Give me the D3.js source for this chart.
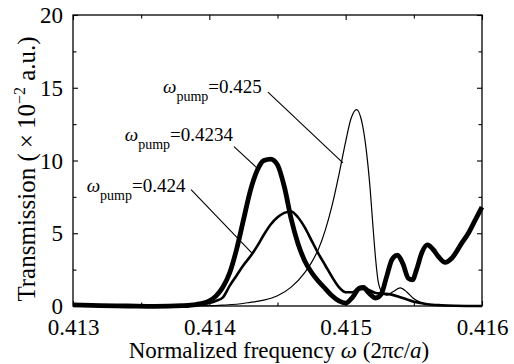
<!DOCTYPE html>
<html>
<head>
<meta charset="utf-8">
<script src="https://cdn.jsdelivr.net/npm/d3@7"></script>
<style>
  html, body { margin: 0; padding: 0; background: #fff; }
  svg { display: block; }
</style>
</head>
<body>
<div id="chart"></div>
<script>
// frequency (2πc/a) and transmission (x10^-2 a.u.)
const freq4234 = [0.4130, 0.4132, 0.4134, 0.4136, 0.4138, 0.4139, 0.4140, 0.41405, 0.4141, 0.41415, 0.4142, 0.41425, 0.4143, 0.41435, 0.4144, 0.41445, 0.4145, 0.41455, 0.4146, 0.41465, 0.4147, 0.41475, 0.4148, 0.41485, 0.4149, 0.41495, 0.4150, 0.41505, 0.4151, 0.41513, 0.41517, 0.41522, 0.41526, 0.4153, 0.41534, 0.41538, 0.41542, 0.41546, 0.41549, 0.41552, 0.41556, 0.4156, 0.41564, 0.41568, 0.41573, 0.41578, 0.41585, 0.4159, 0.41595, 0.4160];
const trans4234 = [0.08, 0.03, 0.0, -0.03, 0.02, 0.1, 0.35, 0.7, 1.3, 2.3, 3.9, 5.9, 7.9, 9.3, 10.0, 10.1, 9.7, 8.2, 6.0, 4.3, 3.1, 2.3, 1.7, 1.2, 0.7, 0.35, 0.2, 0.6, 1.2, 1.25, 0.9, 0.55, 0.8, 2.0, 3.2, 3.5, 2.9, 1.9, 1.8, 2.5, 3.7, 4.2, 3.9, 3.4, 3.0, 3.3, 4.3, 5.0, 5.9, 6.8];

const freq424 = [0.4130, 0.4132, 0.4134, 0.4136, 0.4138, 0.4139, 0.4140, 0.41405, 0.4141, 0.41415, 0.4142, 0.41425, 0.4143, 0.41435, 0.4144, 0.41445, 0.4145, 0.41455, 0.4146, 0.41465, 0.4147, 0.41475, 0.4148, 0.41485, 0.4149, 0.41495, 0.4150, 0.41505, 0.4151, 0.41513, 0.41517, 0.41522, 0.41527, 0.41533, 0.4154, 0.41545, 0.4155, 0.41555, 0.4156, 0.4157, 0.4158, 0.4160];
const trans424 = [0.05, 0.02, 0.0, 0.0, 0.03, 0.08, 0.2, 0.35, 0.6, 1.4, 2.1, 2.8, 3.4, 4.1, 4.9, 5.6, 6.1, 6.4, 6.5, 6.1, 5.4, 4.5, 3.6, 2.8, 2.0, 1.3, 0.95, 0.95, 1.3, 1.35, 1.1, 0.9, 0.85, 0.8, 0.6, 0.45, 0.3, 0.2, 0.12, 0.05, 0.02, 0.0];

const freq425 = [0.4130, 0.4138, 0.4140, 0.4141, 0.4142, 0.4143, 0.4144, 0.4145, 0.4146, 0.4147, 0.41475, 0.4148, 0.41485, 0.4149, 0.41495, 0.4150, 0.41504, 0.41508, 0.41512, 0.41515, 0.41518, 0.4152, 0.41522, 0.41524, 0.41527, 0.4153, 0.41535, 0.4154, 0.41545, 0.4155, 0.41555, 0.4156, 0.4157, 0.4158, 0.4160];
const trans425 = [0.0, 0.0, 0.02, 0.06, 0.12, 0.25, 0.4, 0.7, 1.3, 2.3, 3.0, 3.9, 5.2, 6.9, 9.0, 11.3, 12.9, 13.5, 12.6, 10.8, 8.0, 5.5, 3.2, 1.6, 0.9, 0.75, 1.0, 1.25, 0.95, 0.5, 0.25, 0.12, 0.04, 0.01, 0.0];

const pumpLabels = ['0.425', '0.4234', '0.424'];
const xTickValues = [0.413, 0.414, 0.415, 0.416];
const yTickValues = [0, 5, 10, 15, 20];

const width = 514, height = 364;
const margin = { top: 15, right: 32, bottom: 58, left: 73 };

const svg = d3.select('#chart').append('svg')
  .attr('width', width).attr('height', height);

const x = d3.scaleLinear().domain([0.413, 0.416]).range([margin.left, width - margin.right]);
const y = d3.scaleLinear().domain([0, 20]).range([height - margin.bottom, margin.top]);

const xMinor = d3.range(0.4135, 0.416, 0.001);
const yMinor = d3.range(2.5, 20, 5);

// bottom axis with labels
const bottom = svg.append('g').attr('transform', `translate(0,${y(0)})`)
  .call(d3.axisBottom(x).tickValues(xTickValues).tickSize(-5).tickFormat(d3.format('.3f')));
bottom.selectAll('text').attr('y', 29).attr('dy', 0).style('font-size', '23px');
svg.append('g').attr('transform', `translate(0,${y(0)})`)
  .call(d3.axisBottom(x).tickValues(xMinor).tickSize(-3.5).tickFormat(''));

// top
svg.append('g').attr('transform', `translate(0,${y(20)})`)
  .call(d3.axisTop(x).tickValues(xTickValues).tickSize(-5).tickFormat(''));
svg.append('g').attr('transform', `translate(0,${y(20)})`)
  .call(d3.axisTop(x).tickValues(xMinor).tickSize(-3.5).tickFormat(''));

// left axis with labels
const left = svg.append('g').attr('transform', `translate(${x(0.413)},0)`)
  .call(d3.axisLeft(y).tickValues(yTickValues).tickSize(-5).tickPadding(10));
left.selectAll('text').attr('dy', '0.33em').style('font-size', '23px');
svg.append('g').attr('transform', `translate(${x(0.413)},0)`)
  .call(d3.axisLeft(y).tickValues(yMinor).tickSize(-3.5).tickFormat(''));

// right
svg.append('g').attr('transform', `translate(${x(0.416)},0)`)
  .call(d3.axisRight(y).tickValues(yTickValues).tickSize(-5).tickFormat(''));
svg.append('g').attr('transform', `translate(${x(0.416)},0)`)
  .call(d3.axisRight(y).tickValues(yMinor).tickSize(-3.5).tickFormat(''));

svg.selectAll('.domain').remove();
svg.selectAll('.tick line').attr('stroke', '#000').attr('stroke-width', 1.1);

svg.append('rect')
  .attr('x', x(0.413)).attr('y', y(20))
  .attr('width', x(0.416) - x(0.413)).attr('height', y(0) - y(20))
  .attr('fill', 'none').attr('stroke', '#000').attr('stroke-width', 1.3);

// curves
const line = d3.line()
  .x(d => x(d[0]))
  .y(d => y(d[1]))
  .curve(d3.curveMonotoneX);

const series = [
  { f: freq425, t: trans425, w: 1.2 },
  { f: freq424, t: trans424, w: 2.6 },
  { f: freq4234, t: trans4234, w: 4.8 }
];
series.forEach(s => {
  svg.append('path')
    .datum(s.f.map((f, i) => [f, s.t[i]]))
    .attr('fill', 'none')
    .attr('stroke', '#000')
    .attr('stroke-width', s.w)
    .attr('stroke-linejoin', 'round')
    .attr('d', line);
});

// annotations (label start, leader line from -> to, in data units)
const notes = [
  { label: pumpLabels[0], tx: 0.413660, ty: 14.65, from: [0.414430, 14.7], to: [0.414980, 9.83] },
  { label: pumpLabels[1], tx: 0.413380, ty: 11.35, from: [0.414181, 10.95], to: [0.414350, 9.48] },
  { label: pumpLabels[2], tx: 0.413100, ty: 7.85, from: [0.413866, 8.0], to: [0.414320, 3.57] }
];
notes.forEach(n => {
  const t = svg.append('text').attr('x', x(n.tx)).attr('y', y(n.ty)).style('font-size', '19px');
  t.append('tspan').style('font-style', 'italic').text('ω');
  t.append('tspan').attr('dy', 8).style('font-size', '14px').text('pump');
  t.append('tspan').attr('dy', -8).text('=' + n.label);
  svg.append('line')
    .attr('x1', x(n.from[0])).attr('y1', y(n.from[1]))
    .attr('x2', x(n.to[0])).attr('y2', y(n.to[1]))
    .attr('stroke', '#000').attr('stroke-width', 1.1);
});

// axis titles
const xt = svg.append('text').attr('x', 279).attr('y', 358)
  .attr('text-anchor', 'middle').style('font-size', '23px');
xt.append('tspan').text('Normalized frequency ');
xt.append('tspan').style('font-style', 'italic').text('ω');
xt.append('tspan').text(' (2π');
xt.append('tspan').style('font-style', 'italic').text('c');
xt.append('tspan').text('/');
xt.append('tspan').style('font-style', 'italic').text('a');
xt.append('tspan').text(')');

const yt = svg.append('text')
  .attr('transform', `translate(35,169) rotate(-90)`)
  .attr('text-anchor', 'middle').style('font-size', '25px');
yt.append('tspan').text('Transmission (\u2009×\u200910');
yt.append('tspan').attr('dy', -10).style('font-size', '16px').text('−2');
yt.append('tspan').attr('dy', 10).text(' a.u.)');

svg.selectAll('text').style('font-family', "'Liberation Serif'").style('fill', '#000');
</script>
</body>
</html>
